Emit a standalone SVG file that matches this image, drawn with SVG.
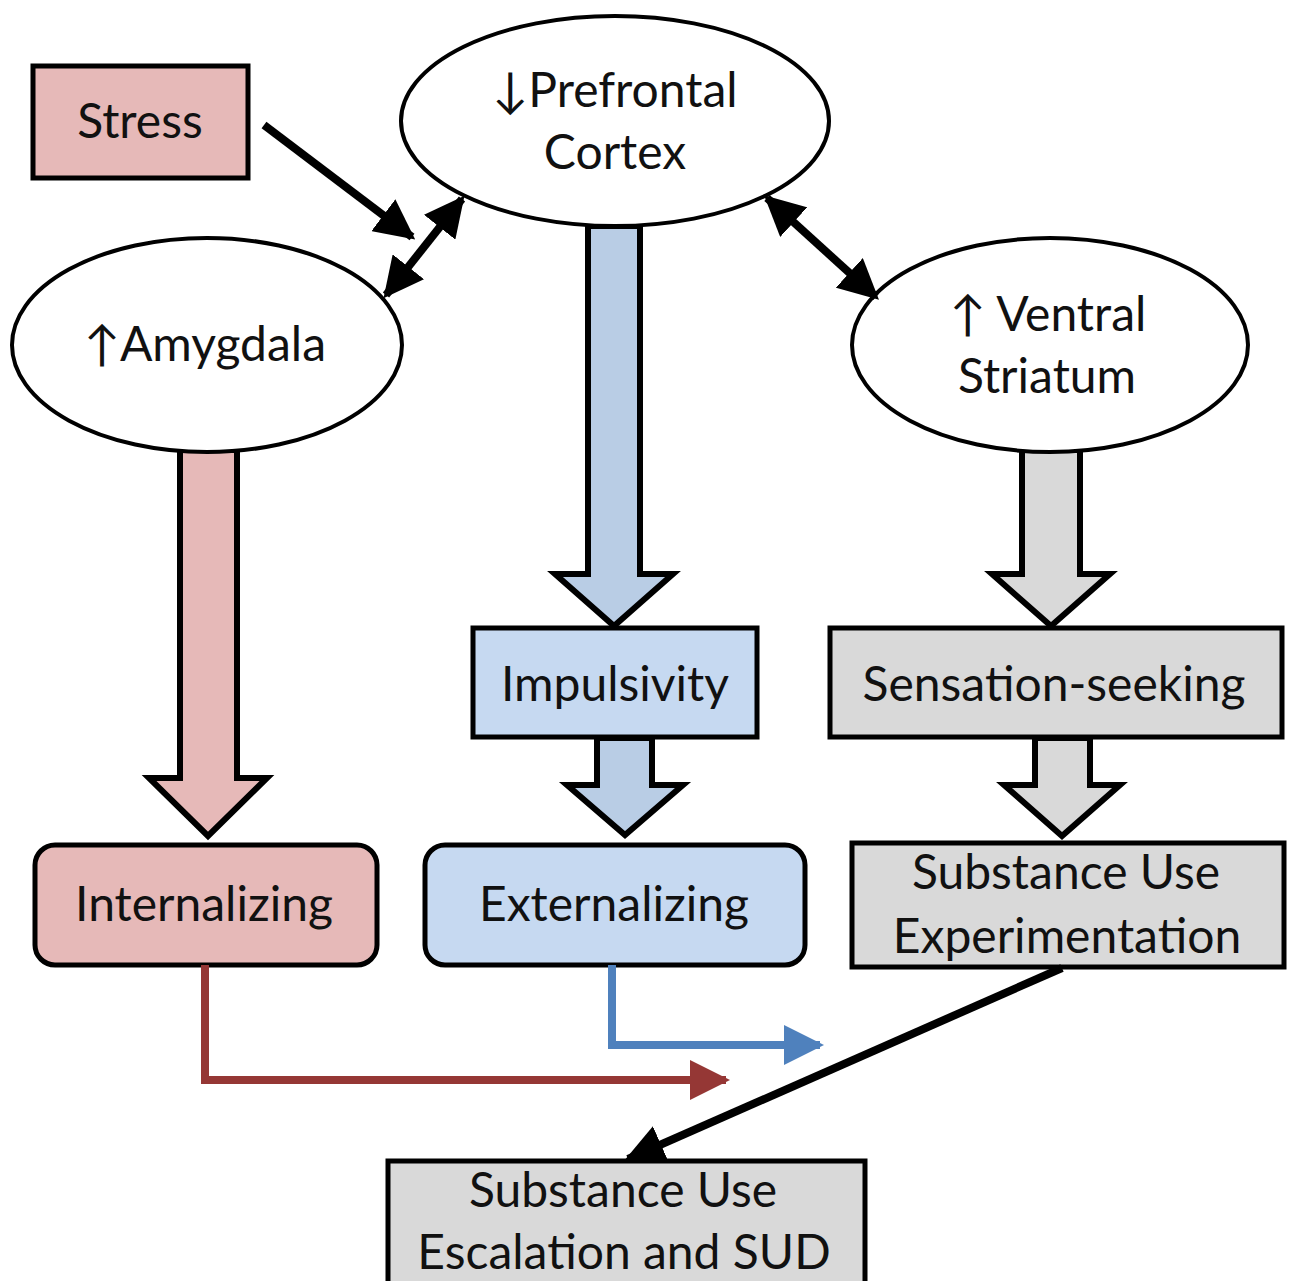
<svg xmlns="http://www.w3.org/2000/svg" width="1291" height="1281" viewBox="0 0 1291 1281">
<style>
text{font-family:Lato,"Open Sans","Liberation Sans",sans-serif;font-size:48px;fill:#111;text-anchor:middle}
.box{stroke:#000;stroke-width:5}
.ell{fill:#fff;stroke:#000;stroke-width:4}
.pink{fill:#e6b9b8}
.blue{fill:#c6d9f1}
.bluea{fill:#b9cde5}
.gray{fill:#d9d9d9}
.blk{stroke:#000;stroke-width:6;stroke-linejoin:miter}
.line{fill:none;stroke:#000;stroke-width:8}
</style>
<defs>
<marker id="ah" viewBox="0 0 10 10" refX="9" refY="5" markerWidth="5" markerHeight="5" markerUnits="strokeWidth" orient="auto-start-reverse"><path d="M0,0 L10,5 L0,10 Z" fill="#000"/></marker>
<marker id="ahr" viewBox="0 0 10 10" refX="9" refY="5" markerWidth="5" markerHeight="5" markerUnits="strokeWidth" orient="auto"><path d="M0,0 L10,5 L0,10 Z" fill="#953735"/></marker>
<marker id="ahb" viewBox="0 0 10 10" refX="9" refY="5" markerWidth="5" markerHeight="5" markerUnits="strokeWidth" orient="auto"><path d="M0,0 L10,5 L0,10 Z" fill="#4f81bd"/></marker>
</defs>
<rect width="1291" height="1281" fill="#fff"/>
<g id="block-arrows">
<path class="blk bluea" d="M588,226 L640,226 L640,574 L673,574 L614,626 L555,574 L588,574 Z"/>
<path class="blk pink" d="M180,450 L237,450 L237,778 L267,778 L208,836 L149,778 L180,778 Z"/>
<path class="blk gray" d="M1022,450 L1080,450 L1080,574 L1110,574 L1051,626 L992,574 L1022,574 Z"/>
<path class="blk bluea" d="M597,738 L652,738 L652,785 L683,785 L625,835 L567,785 L597,785 Z"/>
<path class="blk gray" d="M1035,738 L1090,738 L1090,785 L1120,785 L1062,836 L1004,785 L1035,785 Z"/>
</g>
<g id="stress"><rect class="box pink" x="33" y="66" width="215" height="112"/><text x="140" y="138">Stress</text></g>
<g id="pfc"><ellipse class="ell" cx="615" cy="121" rx="214" ry="105"/><text x="615" y="107">↓Prefrontal</text><text x="615" y="169">Cortex</text></g>
<g id="amygdala"><ellipse class="ell" cx="207" cy="345" rx="195" ry="107"/><text x="205" y="361">↑Amygdala</text></g>
<g id="ventral-striatum"><ellipse class="ell" cx="1050" cy="345" rx="198" ry="107"/><text x="1048" y="331">↑ Ventral</text><text x="1047" y="393">Striatum</text></g>
<g id="impulsivity"><rect class="box blue" x="473" y="628" width="284" height="109"/><text x="615" y="701">Impulsivity</text></g>
<g id="sensation-seeking"><rect class="box gray" x="830" y="628" width="452" height="109"/><text x="1054" y="701">Sensation-seeking</text></g>
<g id="internalizing"><rect class="box pink" x="35" y="845" width="342" height="120" rx="20"/><text x="204" y="921">Internalizing</text></g>
<g id="externalizing"><rect class="box blue" x="425" y="845" width="380" height="120" rx="20"/><text x="614" y="921">Externalizing</text></g>
<g id="experimentation"><rect class="box gray" x="852" y="843" width="432" height="124"/><text x="1066" y="889">Substance Use</text><text x="1067" y="953">Experimentation</text></g>
<g id="escalation"><rect class="box gray" x="388" y="1161" width="477" height="130"/><text x="623" y="1207">Substance Use</text><text x="624" y="1269">Escalation and SUD</text></g>
<g id="connectors">
<line class="line" x1="264" y1="125" x2="412" y2="237" marker-end="url(#ah)"/>
<line class="line" x1="462" y1="199" x2="386" y2="295" marker-start="url(#ah)" marker-end="url(#ah)"/>
<line class="line" x1="767" y1="198" x2="876" y2="297" marker-start="url(#ah)" marker-end="url(#ah)"/>
<path d="M205,965 L205,1080 L726,1080" fill="none" stroke="#953735" stroke-width="8" marker-end="url(#ahr)"/>
<path d="M612,965 L612,1045 L820,1045" fill="none" stroke="#4f81bd" stroke-width="8" marker-end="url(#ahb)"/>
<line class="line" x1="1062" y1="968" x2="628" y2="1159" marker-end="url(#ah)"/>
</g>
</svg>
